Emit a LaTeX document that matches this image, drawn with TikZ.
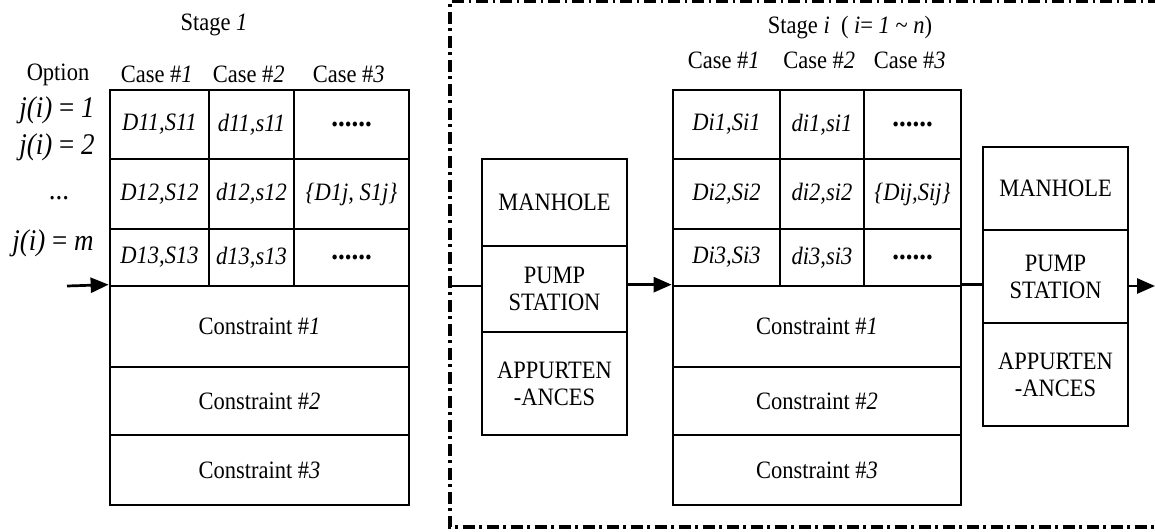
\documentclass[tikz,border=0pt]{standalone}
\usepackage{fontspec}
\setmainfont{Liberation Serif}[FakeStretch=0.9]
\usetikzlibrary{positioning, arrows.meta}

\newcommand{\cell}[6]{%
  \node[box, minimum width={(#4-#2)*0.5pt}, minimum height={(#5-#3)*0.5pt}]
    (#1) at ({(#2+#4)/2},{(#3+#5)/2}) {#6};}
\newcommand{\dotrow}{{\fontsize{15}{15}\selectfont\textbf{......}}}

\begin{document}
\begin{tikzpicture}[x = 0.5pt, y = -0.5pt,
    every node/.style = { font = \fontsize{12.5}{13.5}\selectfont, align = center, inner sep = 0pt },
    box/.style = { draw, line width = 1.35pt },
    link/.style = { line width = 1.35pt },
    flow/.style = { link, -{Triangle[length = 9pt, width = 7.5pt]} },
    frame/.style = { line width = 1.6pt, dash pattern = on 6pt off 2.3pt on 1.4pt off 2.3pt },
    big/.style = { font = \fontsize{15}{17}\selectfont }]
  \useasboundingbox (0,0) rectangle (1155,531);

  % stage 1
  \cell{l11}{110}{90}{209}{159}{\textit{D11,S11}}
  \cell{l12}{209}{90}{294}{159}{\textit{d11,s11}}
  \cell{l13}{294}{90}{409}{159}{\dotrow}
  \cell{l21}{110}{159}{209}{229}{\textit{D12,S12}}
  \cell{l22}{209}{159}{294}{229}{\textit{d12,s12}}
  \cell{l23}{294}{159}{409}{229}{\textit{\{D1j, S1j\}}}
  \cell{l31}{110}{229}{209}{286}{\textit{D13,S13}}
  \cell{l32}{209}{229}{294}{286}{\textit{d13,s13}}
  \cell{l33}{294}{229}{409}{286}{\dotrow}

  \node (stage1) at (214,25) {Stage \textit{1}};
  \node (option) at (58,75) {Option};
  \node [above = 3pt of l11] { Case \#\textit{1} };
  \node [above = 3pt of l12] { Case \#\textit{2} };
  \node [above = 3pt of l13] { Case \#\textit{3} };
  \node [big] (j1) at (57,110) {\textit{j(i)} = \textit{1}};
  \node [big] (j2) at (57,147) {\textit{j(i)} = \textit{2}};
  \node [big] (jd) at (59,198) {...};
  \node [big] (jm) at (53,243) {\textit{j(i)} = \textit{m}};

  % stage i
  \cell{r11}{673}{90}{780}{159}{\textit{Di1,Si1}}
  \cell{r12}{780}{90}{864}{159}{\textit{di1,si1}}
  \cell{r13}{864}{90}{961}{159}{\dotrow}
  \cell{r21}{673}{159}{780}{229}{\textit{Di2,Si2}}
  \cell{r22}{780}{159}{864}{229}{\textit{di2,si2}}
  \cell{r23}{864}{159}{961}{229}{\textit{\{Dij,Sij\}}}
  \cell{r31}{673}{229}{780}{286}{\textit{Di3,Si3}}
  \cell{r32}{780}{229}{864}{286}{\textit{di3,si3}}
  \cell{r33}{864}{229}{961}{286}{\dotrow}

  \node (stagei) at (850,28) {Stage \textit{i}~~( \textit{i}= \textit{1} \textasciitilde{} \textit{n})};
  \node [above = 10pt of r11] { Case \#\textit{1} };
  \node [above = 10pt of r12] { Case \#\textit{2} };
  \node [above = 10pt of r13] { Case \#\textit{3} };

  \foreach \i/\a/\b in {1/286/367, 2/367/435, 3/435/505} {
    \cell{lc\i}{110}{\a}{409}{\b}{Constraint \#\textit{\i}}
    \cell{rc\i}{673}{\a}{961}{\b}{Constraint \#\textit{\i}}
  }

  \cell{mh1}{482}{159}{627}{246}{MANHOLE}
  \cell{ps1}{482}{246}{627}{332}{PUMP\\STATION}
  \cell{ap1}{482}{332}{627}{435}{APPURTEN\\-ANCES}
  \cell{mh2}{983}{147}{1128}{230}{MANHOLE}
  \cell{ps2}{983}{230}{1128}{323}{PUMP\\STATION}
  \cell{ap2}{983}{323}{1128}{426}{APPURTEN\\-ANCES}

  \coordinate (in) at (67,286);
  \coordinate (gate) at (450,286);
  \coordinate (out) at (1155,286);
  \draw [flow] (in) -- (lc1.north west);
  \draw [link] (gate) -- (gate -| ps1.west);
  \draw [flow] (ps1.east |- rc1.north west) -- (rc1.north west);
  \draw [link] (rc1.north east) -- (rc1.north east -| ps2.west);
  \draw [flow] (ps2.east |- out) -- (out);

  \draw [frame] (1160,1.5) -- (450,1.5) -- (450,527) -- (1160,527);
\end{tikzpicture}
\end{document}
